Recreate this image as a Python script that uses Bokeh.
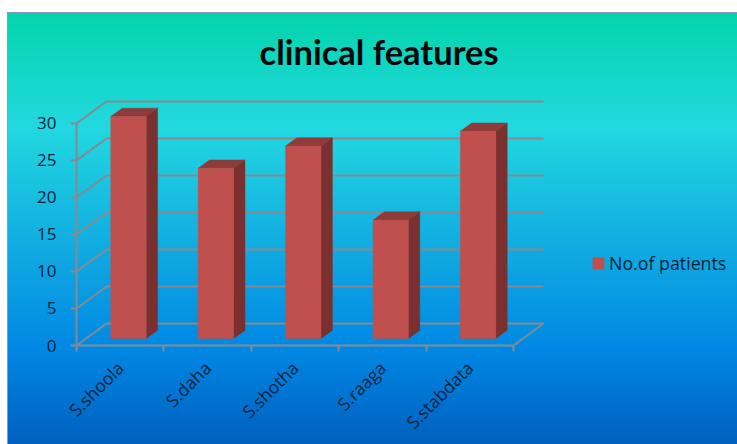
from bokeh.embed import file_html
from bokeh.models import ColumnDataSource, FixedTicker, Legend, LegendItem, LinearAxis, Range1d
from bokeh.plotting import figure
from bokeh.resources import INLINE

# Chart content
categories = ["S.shoola", "S.daha", "S.shotha", "S.raaga", "S.stabdata"]
patients = [30, 23, 26, 16, 28]
y_ticks = [0, 5, 10, 15, 20, 25, 30]
series_name = "No.of patients"
chart_title = "clinical features"

# Oblique projection of the chart box, in axis units
WALL_DX, WALL_DY = 0.343, 2.97
BAR_WIDTH, BAR_SHIFT_X, BAR_SHIFT_Y = 0.405, 0.095, 0.95
BAR_DX, BAR_DY = 0.13, 1.12

FRONT, TOP, SIDE = "#C0504D", "#8E3B39", "#7A302E"
GRID = "#858B90"
INK = "#06233A"

# The frame runs to the right edge so the legend can sit inside it
p = figure(
    width=737, height=444, output_backend="svg", toolbar_location=None,
    x_range=Range1d(0, 7.563), y_range=Range1d(0, 35.81),
    min_border_left=76, min_border_right=0, min_border_top=80, min_border_bottom=99,
    x_axis_type=None, y_axis_type=None,
    background_fill_alpha=0, border_fill_alpha=0, outline_line_color=None,
)
p.grid.visible = False

# Page backdrop: thin edge lines over a vertical gradient panel
gradient = ("linear-gradient(180deg,#04D5AC 0px,#22D8E0 115px,#0CA0E2 265px,"
            "#0088E4 335px,#0060C0 431px)")
p.styles = {
    "background": (
        "linear-gradient(#7F9CCB,#7F9CCB) 7px 12px / 730px 1px no-repeat,"
        "linear-gradient(#7F9CCB,#7F9CCB) 7px 12px / 1px 432px no-repeat,"
        + gradient + " 7px 13px / 730px 431px no-repeat"
    )
}

# Back wall, side wall and floor edges
n = len(categories)
wall_xs, wall_ys = [], []
for v in y_ticks:
    wall_xs.append([0, WALL_DX, n + WALL_DX])
    wall_ys.append([v, v + WALL_DY, v + WALL_DY])
wall_xs.append([n, n + WALL_DX])
wall_ys.append([0, WALL_DY])
p.multi_line(wall_xs, wall_ys, line_color=GRID, line_width=2)

# Bars: side and top faces first, then the front
idx = list(range(n))
left = [i + 0.5 + BAR_SHIFT_X - BAR_WIDTH / 2 for i in idx]
right = [x + BAR_WIDTH for x in left]
base = [BAR_SHIFT_Y] * n
top = [v + BAR_SHIFT_Y for v in patients]

side_xs = [[r, r + BAR_DX, r + BAR_DX, r] for r in right]
side_ys = [[b, b + BAR_DY, t + BAR_DY, t] for b, t in zip(base, top)]
p.patches(side_xs, side_ys, fill_color=SIDE, line_color=SIDE, line_width=0.5)

top_xs = [[l, l + BAR_DX, r + BAR_DX, r] for l, r in zip(left, right)]
top_ys = [[t, t + BAR_DY, t + BAR_DY, t] for t in top]
p.patches(top_xs, top_ys, fill_color=TOP, line_color=TOP, line_width=0.5)

source = ColumnDataSource(dict(left=left, right=right, bottom=base, top=top))
front = p.quad(left="left", right="right", bottom="bottom", top="top", source=source,
               fill_color=FRONT, line_color=FRONT, line_width=0.5)

# Axes
y_axis = LinearAxis(
    ticker=FixedTicker(ticks=y_ticks), bounds=(0, 30),
    axis_line_color=GRID, axis_line_width=2,
    major_tick_line_color=GRID, major_tick_line_width=2, major_tick_in=0, major_tick_out=6,
    minor_tick_line_color=None,
    major_label_text_font="Open Sans", major_label_text_font_size="17px",
    major_label_text_color=INK, major_label_standoff=14,
)
p.add_layout(y_axis, "left")

x_axis = LinearAxis(
    ticker=FixedTicker(ticks=[i + 0.5 for i in idx], minor_ticks=list(range(n + 1))),
    bounds=(0, n),
    major_label_overrides={i + 0.5: c for i, c in zip(idx, categories)},
    major_label_orientation=0.785,
    axis_line_color=GRID, axis_line_width=2,
    major_tick_line_color=None,
    minor_tick_line_color=GRID, minor_tick_line_width=2, minor_tick_in=0, minor_tick_out=6,
    major_label_text_font="Open Sans", major_label_text_font_size="17.5px",
    major_label_text_color=INK, major_label_standoff=13,
)
p.add_layout(x_axis, "below")

# Title
p.title.text = chart_title
p.title.text_font = "Lato"
p.title.text_font_style = "bold"
p.title.text_font_size = "34.5px"
p.title.text_color = "#02060A"
p.title.align = "left"
p.title.offset = 183
p.title.standoff = 18

# Legend placed in the free space right of the chart box
legend = Legend(
    items=[LegendItem(label=series_name, renderers=[front])],
    location=(515, 70), background_fill_alpha=0, border_line_color=None,
    glyph_width=14, glyph_height=14, label_text_font="Open Sans",
    label_text_font_size="17.8px", label_text_color=INK, padding=0, margin=0, spacing=0,
    label_standoff=4,
)
p.add_layout(legend, "center")

open("out.html", "w").write(file_html(p, INLINE))
